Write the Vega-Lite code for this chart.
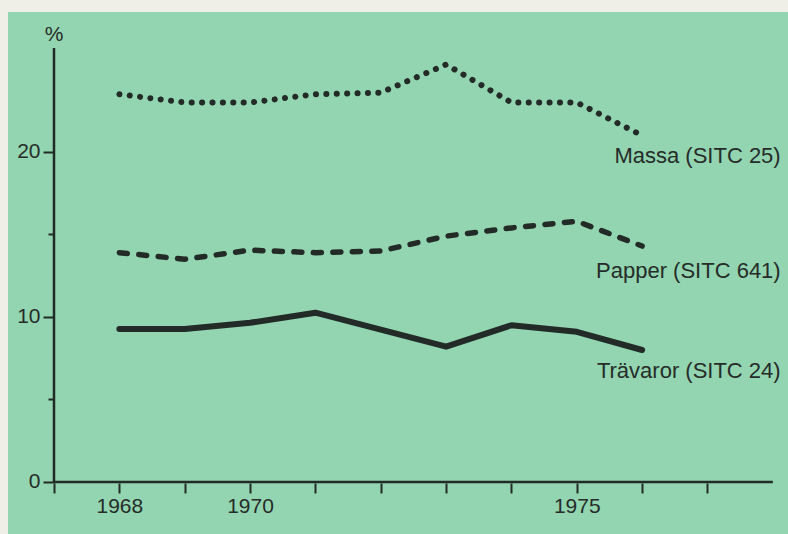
{
  "$schema": "https://vega.github.io/schema/vega-lite/v6.json",
  "width": 780,
  "height": 522,
  "autosize": {"type": "none"},
  "padding": {"left": 8, "top": 12, "right": 0, "bottom": 0},
  "background": "#efefe7",
  "config": {
    "view": {"fill": "#92d5b0", "stroke": null},
    "font": "Liberation Sans"
  },
  "datasets": {
    "axes": [
      {"x": 1967, "y": 0, "x2": 1967, "y2": 26.3},
      {"x": 1967, "y": 0, "x2": 1978, "y2": 0}
    ],
    "series": [
      {"series": "Massa", "x": 1968, "y": 23.5},
      {"series": "Massa", "x": 1969, "y": 23.0},
      {"series": "Massa", "x": 1970, "y": 23.0},
      {"series": "Massa", "x": 1971, "y": 23.5},
      {"series": "Massa", "x": 1972, "y": 23.6},
      {"series": "Massa", "x": 1973, "y": 25.3},
      {"series": "Massa", "x": 1974, "y": 23.0},
      {"series": "Massa", "x": 1975, "y": 23.0},
      {"series": "Massa", "x": 1976, "y": 21.0},
      {"series": "Papper", "x": 1968, "y": 13.9},
      {"series": "Papper", "x": 1969, "y": 13.5},
      {"series": "Papper", "x": 1970, "y": 14.05},
      {"series": "Papper", "x": 1971, "y": 13.9},
      {"series": "Papper", "x": 1972, "y": 14.0},
      {"series": "Papper", "x": 1973, "y": 14.9},
      {"series": "Papper", "x": 1974, "y": 15.4},
      {"series": "Papper", "x": 1975, "y": 15.8},
      {"series": "Papper", "x": 1976, "y": 14.3},
      {"series": "Trävaror", "x": 1968, "y": 9.27},
      {"series": "Trävaror", "x": 1969, "y": 9.27},
      {"series": "Trävaror", "x": 1970, "y": 9.65},
      {"series": "Trävaror", "x": 1971, "y": 10.26},
      {"series": "Trävaror", "x": 1973, "y": 8.2},
      {"series": "Trävaror", "x": 1974, "y": 9.5},
      {"series": "Trävaror", "x": 1975, "y": 9.1},
      {"series": "Trävaror", "x": 1976, "y": 8.0}
    ],
    "labels": [
      {"label": "Massa (SITC 25)", "x": 1978.12, "y": 19.33},
      {"label": "Papper (SITC 641)", "x": 1978.12, "y": 12.36},
      {"label": "Trävaror (SITC 24)", "x": 1978.12, "y": 6.3}
    ],
    "unit": [
      {"label": "%", "x": 1967, "y": 27.1}
    ]
  },
  "encoding": {
    "x": {
      "field": "x",
      "type": "quantitative",
      "scale": {"domain": [1966.296, 1978.232], "nice": false, "zero": false},
      "axis": {
        "title": null,
        "offset": -51,
        "domain": false,
        "grid": false,
        "values": [1967, 1968, 1969, 1970, 1971, 1972, 1973, 1974, 1975, 1976, 1977],
        "format": "d",
        "labelExpr": "(datum.value == 1968 || datum.value == 1970 || datum.value == 1975) ? datum.label : ''",
        "tickSize": 10,
        "tickWidth": 2,
        "tickColor": "#232b28",
        "labelFontSize": 21,
        "labelColor": "#262c29",
        "labelPadding": 2,
        "labelFlush": false,
        "labelOverlap": false
      }
    },
    "y": {
      "field": "y",
      "type": "quantitative",
      "scale": {"domain": [-3.152, 28.485], "nice": false, "zero": false},
      "axis": {
        "title": null,
        "offset": -46,
        "domain": false,
        "grid": false,
        "values": [0, 5, 10, 15, 20],
        "labelExpr": "datum.value % 10 === 0 ? datum.label : ''",
        "tickSize": {"condition": {"test": "datum.value % 10 === 0", "value": 11}, "value": 6},
        "tickWidth": 2,
        "tickColor": "#232b28",
        "labelFontSize": 21,
        "labelColor": "#262c29",
        "labelPadding": 3,
        "labelFlush": false,
        "labelOverlap": false
      }
    }
  },
  "layer": [
    {
      "data": {"name": "axes"},
      "mark": {"type": "rule", "color": "#232b28", "strokeWidth": 2.5},
      "encoding": {
        "x2": {"field": "x2"},
        "y2": {"field": "y2"}
      }
    },
    {
      "data": {"name": "series"},
      "transform": [{"filter": "datum.series === 'Massa'"}],
      "mark": {"type": "line", "color": "#232b28", "strokeWidth": 6, "strokeCap": "round", "strokeDash": [0.1, 10.3]},
      "encoding": {}
    },
    {
      "data": {"name": "series"},
      "transform": [{"filter": "datum.series === 'Papper'"}],
      "mark": {"type": "line", "color": "#232b28", "strokeWidth": 5.5, "strokeCap": "round", "strokeDash": [8, 11.5]},
      "encoding": {}
    },
    {
      "data": {"name": "series"},
      "transform": [{"filter": "datum.series === 'Trävaror'"}],
      "mark": {"type": "line", "color": "#232b28", "strokeWidth": 6, "strokeCap": "round", "strokeJoin": "round"},
      "encoding": {}
    },
    {
      "data": {"name": "labels"},
      "mark": {"type": "text", "align": "right", "baseline": "alphabetic", "fontSize": 22, "color": "#262c29"},
      "encoding": {"text": {"field": "label"}}
    },
    {
      "data": {"name": "unit"},
      "mark": {"type": "text", "align": "center", "baseline": "middle", "fontSize": 21, "color": "#262c29"},
      "encoding": {"text": {"field": "label"}}
    }
  ]
}
